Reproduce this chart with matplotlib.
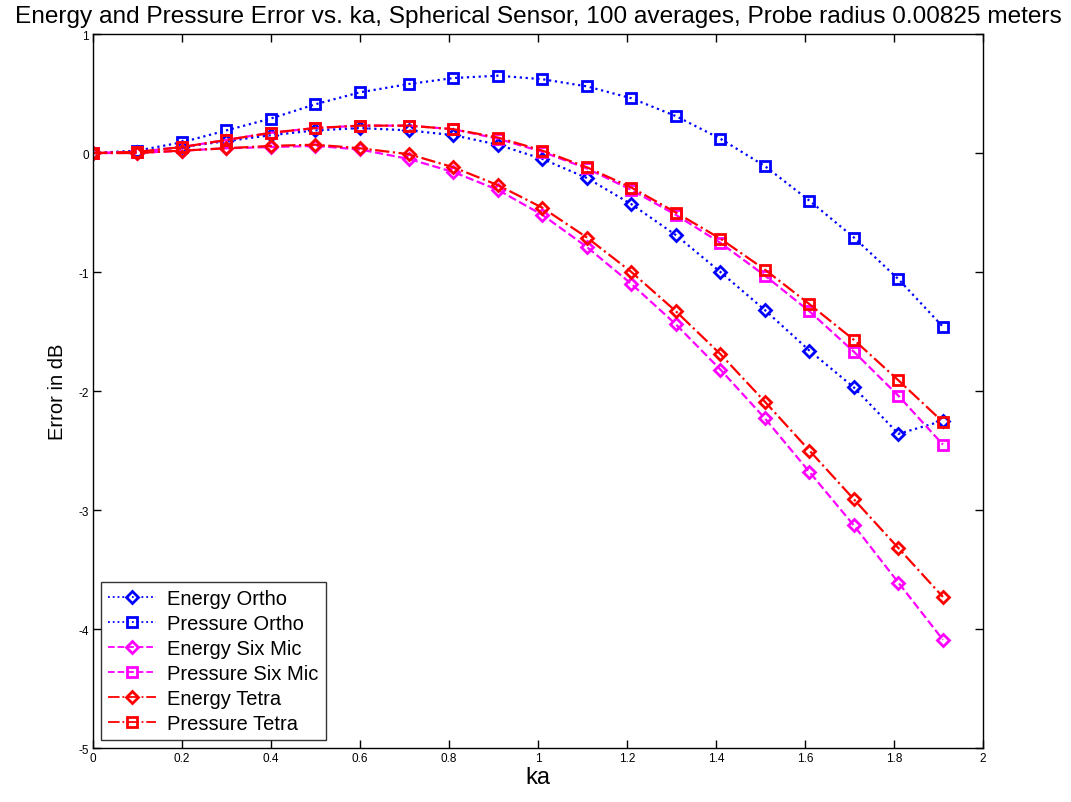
import matplotlib
matplotlib.use('Agg')
import matplotlib.pyplot as plt

ka = [0.0, 0.1, 0.2, 0.3, 0.4, 0.5, 0.6, 0.71, 0.81, 0.91,
      1.01, 1.11, 1.21, 1.31, 1.41, 1.51, 1.61, 1.71, 1.81, 1.91]

energy_ortho = [0.0, 0.01, 0.05, 0.10, 0.15, 0.19, 0.21, 0.19, 0.15, 0.07,
                -0.05, -0.21, -0.43, -0.69, -1.00, -1.32, -1.66, -1.97, -2.36, -2.25]
pressure_ortho = [0.0, 0.02, 0.09, 0.19, 0.29, 0.41, 0.51, 0.58, 0.63, 0.65,
                  0.62, 0.56, 0.46, 0.31, 0.12, -0.11, -0.40, -0.71, -1.06, -1.46]
energy_six = [0.0, 0.0, 0.02, 0.04, 0.05, 0.06, 0.03, -0.05, -0.16, -0.31,
              -0.52, -0.79, -1.10, -1.44, -1.82, -2.23, -2.68, -3.13, -3.61, -4.09]
pressure_six = [0.0, 0.01, 0.05, 0.11, 0.17, 0.21, 0.23, 0.23, 0.20, 0.12,
                0.01, -0.13, -0.31, -0.52, -0.755, -1.03, -1.33, -1.67, -2.04, -2.45]
energy_tetra = [0.0, 0.0, 0.02, 0.04, 0.06, 0.07, 0.04, -0.01, -0.12, -0.27,
                -0.46, -0.71, -1.00, -1.33, -1.69, -2.09, -2.50, -2.91, -3.32, -3.73]
pressure_tetra = [0.0, 0.01, 0.05, 0.11, 0.17, 0.21, 0.23, 0.23, 0.20, 0.13,
                  0.02, -0.12, -0.29, -0.50, -0.72, -0.98, -1.27, -1.57, -1.91, -2.26]

plt.rcParams['font.family'] = ['Liberation Sans', 'DejaVu Sans']
plt.rcParams['axes.unicode_minus'] = False

fig = plt.figure(figsize=(10.71, 8.03), dpi=100)
ax = fig.add_axes([0.0868, 0.0672, 0.8310, 0.8892])

sq = dict(markersize=7.5, markeredgewidth=2, markerfacecolor='none', linewidth=1.6)
dm = dict(markersize=6.5, markeredgewidth=2, markerfacecolor='none', linewidth=1.6)
ax.plot(ka, energy_ortho, color='#0000ff', linestyle=':', marker='D', label='Energy Ortho', **dm)
ax.plot(ka, pressure_ortho, color='#0000ff', linestyle=':', marker='s', label='Pressure Ortho', **sq)
ax.plot(ka, energy_six, color='#ff00ff', linestyle='--', marker='D', label='Energy Six Mic', **dm)
ax.plot(ka, pressure_six, color='#ff00ff', linestyle='--', marker='s', label='Pressure Six Mic', **sq)
ax.plot(ka, energy_tetra, color='#ff0000', linestyle='-.', marker='D', label='Energy Tetra', **dm)
ax.plot(ka, pressure_tetra, color='#ff0000', linestyle='-.', marker='s', label='Pressure Tetra', **sq)

ax.set_xlim(0, 2)
ax.set_ylim(-5, 1)
ax.set_xticks([0, 0.2, 0.4, 0.6, 0.8, 1, 1.2, 1.4, 1.6, 1.8, 2])
ax.set_xticklabels(['0', '0.2', '0.4', '0.6', '0.8', '1', '1.2', '1.4', '1.6', '1.8', '2'])
ax.set_yticks([-5, -4, -3, -2, -1, 0, 1])
ax.tick_params(direction='in', top=True, right=True, labelsize=8.5, length=6, width=1, pad=3)
for s in ax.spines.values():
    s.set_linewidth(1)

ax.set_xlabel('ka', fontsize=17, labelpad=1)
ax.set_ylabel('Error in dB', fontsize=14.5, labelpad=8)
ax.set_title('Energy and Pressure Error vs. ka, Spherical Sensor, 100 averages, Probe radius 0.00825 meters',
             fontsize=17.6, pad=9)

leg = ax.legend(loc='lower left', fontsize=14.5, frameon=True, fancybox=False,
                edgecolor='black', borderaxespad=0.4, handlelength=2.4, labelspacing=0.3,
                borderpad=0.35, handletextpad=0.55)
leg.get_frame().set_linewidth(1)
for line in leg.get_lines():
    line.set_linewidth(1.3)

fig.savefig('out.png', dpi=100)
